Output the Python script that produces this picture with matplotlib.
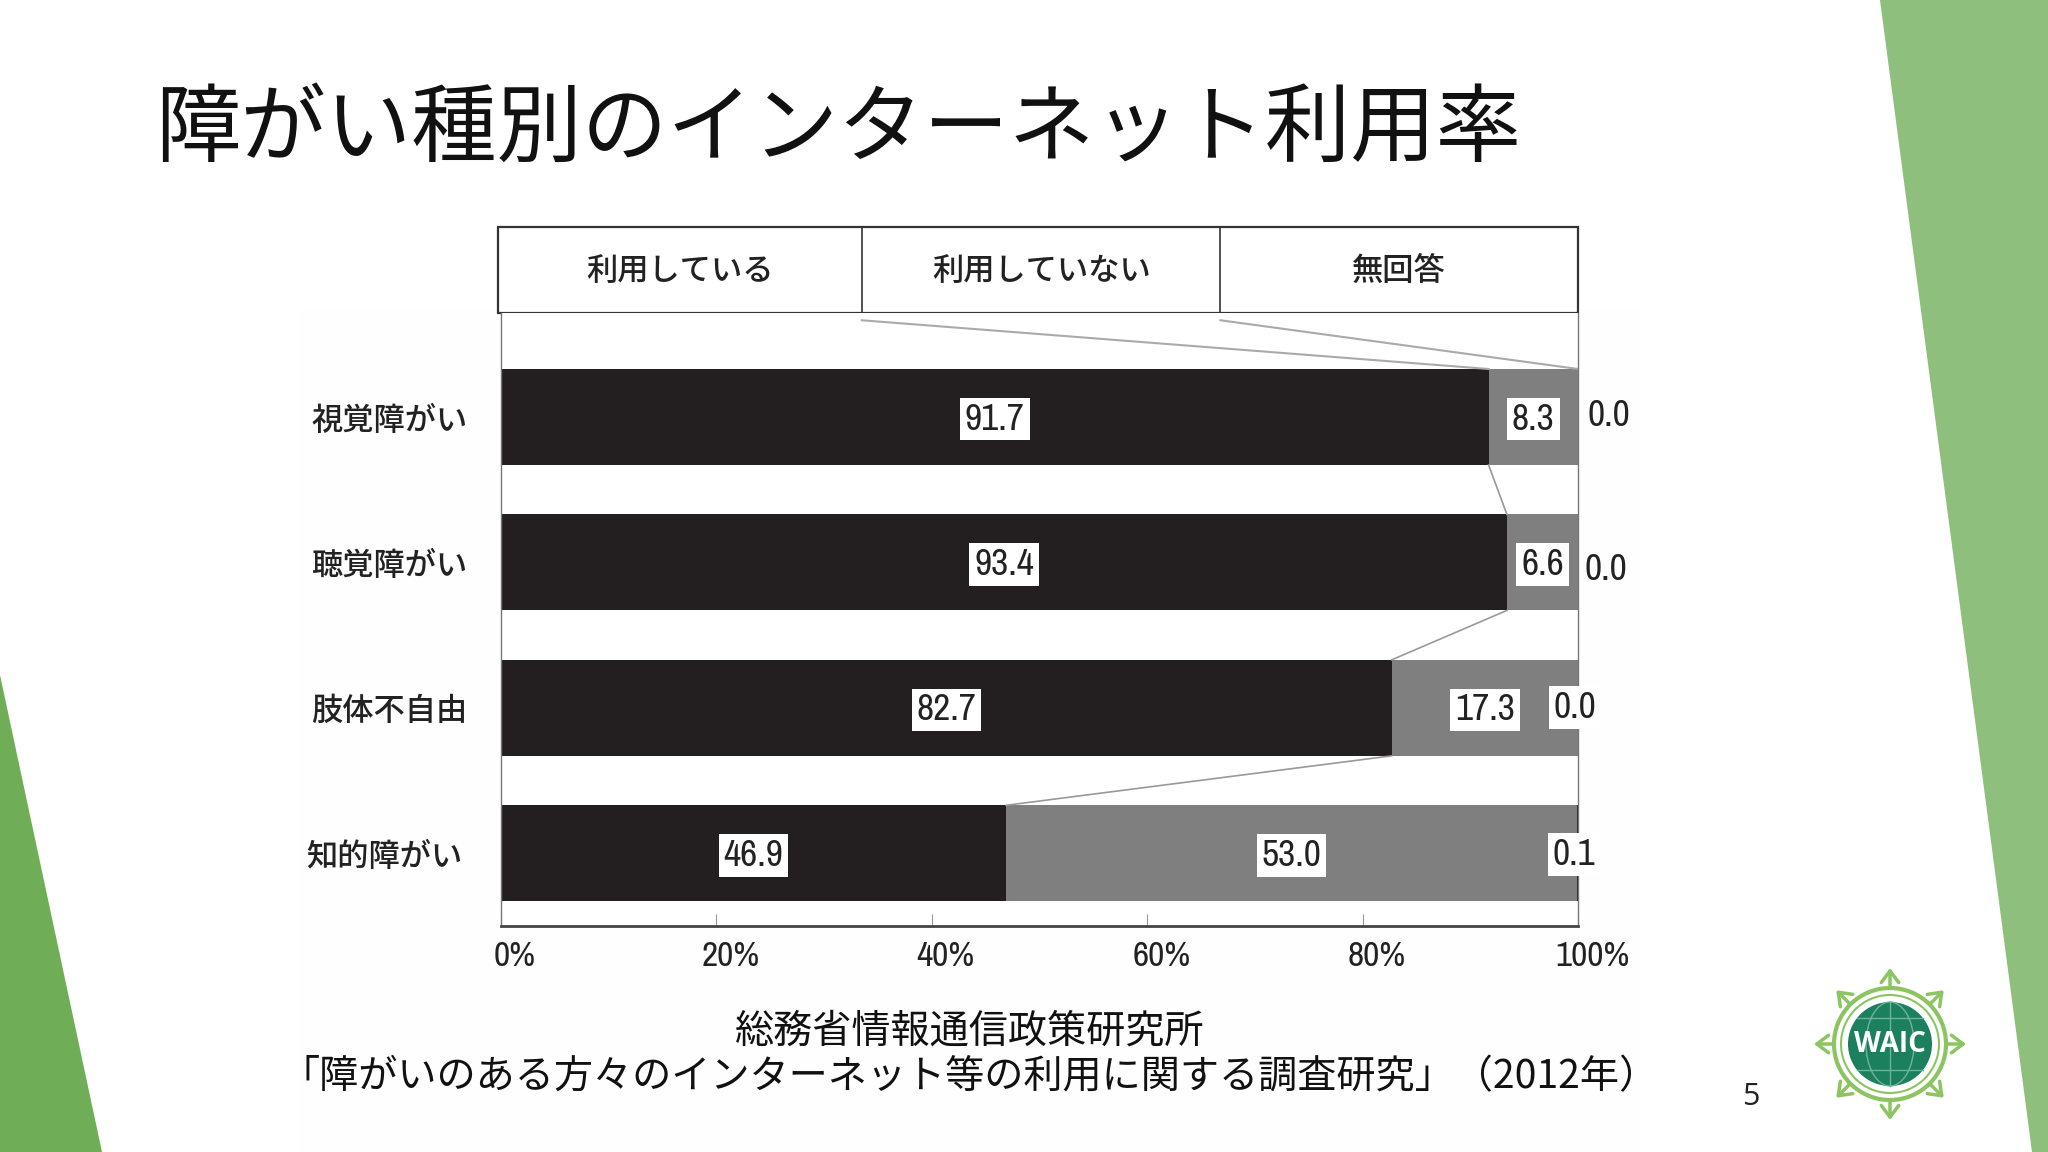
import matplotlib
matplotlib.use("Agg")
import matplotlib.pyplot as plt
import numpy as np
from matplotlib import font_manager
from matplotlib.patches import Circle, Ellipse, Polygon, Rectangle
from matplotlib.transforms import ScaledTranslation

JP = "Noto Sans CJK JP"
names = sorted({f.name for f in font_manager.fontManager.ttflist})
narrow = [n for n in names if "Narrow" in n or "Condensed" in n]
NARROW = narrow[0] if narrow else "Liberation Sans"
plt.rcParams["font.family"] = [JP, "DejaVu Sans"]

categories = ["視覚障がい", "聴覚障がい", "肢体不自由", "知的障がい"]
used = [91.7, 93.4, 82.7, 46.9]
not_used = [8.3, 6.6, 17.3, 53.0]
no_answer = [0.0, 0.0, 0.0, 0.1]
legend_labels = ["利用している", "利用していない", "無回答"]
x_ticks = [0, 20, 40, 60, 80, 100]

title = "障がい種別のインターネット利用率"
source_lines = ["総務省情報通信政策研究所", "「障がいのある方々のインターネット等の利用に関する調査研究」（2012年）"]

BLACK = "#231f20"
GRAY = "#7f7f7f"
W, H = 2048, 1152
fig = plt.figure(figsize=(W / 100, H / 100), dpi=100, facecolor="white")

# slide layer, in pixel coordinates
bg = fig.add_axes([0, 0, 1, 1])
bg.set_xlim(0, W)
bg.set_ylim(H, 0)
bg.axis("off")
bg.add_patch(Rectangle((300, 310), 1340, 842, fc="#fefefe", ec="none"))
bg.add_patch(Polygon([(0, 675), (102, 1152), (0, 1152)], fc="#70ad57", ec="none"))
bg.add_patch(Polygon([(1880, 0), (W, 0), (W, H), (2032, H)], fc="#8fbf7c", ec="none"))
bg.text(155, 131, title, fontsize=61.5, ha="left", va="center", color="#111111")
bg.text(970, 1032, source_lines[0], fontsize=28.2, ha="center", va="center", color="#111111")
bg.text(970, 1077, source_lines[1], fontsize=28.2, ha="center", va="center", color="#111111")
bg.text(1751, 1097, "5", fontsize=22, ha="center", va="center", color="#222222", family="Open Sans")

# legend header
bg.add_patch(Rectangle((498, 227), 1080, 86, fc="white", ec="#333333", lw=1.6))
for x in [862, 1220]:
    bg.plot([x, x], [227, 313], color="#333333", lw=1.2)
for x, label in zip([680, 1042, 1399], legend_labels):
    bg.text(x, 271, label, fontsize=22.5, ha="center", va="center", color="#222222", fontweight="medium")

# WAIC logo
cx, cy = 1890, 1044
LOGO = "#8cc461"
bg.add_patch(Circle((cx, cy), 56, fc="white", ec=LOGO, lw=3))
bg.add_patch(Circle((cx, cy), 49, fc="white", ec=LOGO, lw=1.5))
bg.add_patch(Circle((cx, cy), 42, fc="#1c7f5e", ec="none"))
for a in np.deg2rad(np.arange(0, 360, 45)):
    bg.annotate("", xy=(cx + 76 * np.cos(a), cy + 76 * np.sin(a)),
                xytext=(cx + 56 * np.cos(a), cy + 56 * np.sin(a)),
                arrowprops=dict(arrowstyle="->,head_length=0.6,head_width=0.45", color=LOGO, lw=2.5,
                                shrinkA=0, shrinkB=0, mutation_scale=14))
grid = "#6db59a"
bg.plot([cx, cx], [cy - 42, cy + 42], color=grid, lw=1)
bg.add_patch(Ellipse((cx, cy), 48, 84, fc="none", ec=grid, lw=1))
for dy, half in [(-26, 33), (26, 33)]:
    bg.plot([cx - half, cx + half], [cy + dy, cy + dy], color=grid, lw=1)
bg.text(cx, cy + 1, "WAIC", fontsize=20, ha="center", va="center", color="white", fontweight="bold", family="Open Sans")

# chart
ax = fig.add_axes([501 / W, 1 - 926 / H, 1077 / W, 613 / H])
ax.set_facecolor("white")
y = np.arange(len(categories))
bar_h = 0.66
used_arr = np.array(used)
not_used_arr = np.array(not_used)
ax.barh(y, used_arr, height=bar_h, color=BLACK)
ax.barh(y, not_used_arr, left=used_arr, height=bar_h, color=GRAY)
ax.barh(y, no_answer, left=used_arr + not_used_arr, height=bar_h, color=BLACK)
ax.set_xlim(0, 100)
ax.set_ylim(3.5, -0.715)

for spine in ["left", "right"]:
    ax.spines[spine].set_color("#777777")
    ax.spines[spine].set_linewidth(1)
ax.spines["top"].set_visible(False)
ax.spines["bottom"].set_color("#444444")
ax.spines["bottom"].set_linewidth(2)

ax.set_xticks(x_ticks)
ax.set_xticklabels([f"{t}%" for t in x_ticks], fontsize=25.5, family=NARROW, color="#222222")
ax.tick_params(axis="x", direction="in", length=9, width=0.8, color="#999999", pad=10)
shift = ScaledTranslation(14 / 100, 0, fig.dpi_scale_trans)
for tick_label in ax.get_xticklabels():
    tick_label.set_transform(tick_label.get_transform() + shift)

ax.set_yticks(y)
ax.set_yticklabels(categories, fontsize=22.5, color="#222222", fontweight="medium")
ax.tick_params(axis="y", length=0, pad=24)
left_shift = ScaledTranslation(-5 / 100, 0, fig.dpi_scale_trans)
ax.get_yticklabels()[3].set_transform(ax.get_yticklabels()[3].get_transform() + left_shift)

# connector lines between the bars
for i in range(len(categories) - 1):
    ax.plot([used[i], used[i + 1]], [i + bar_h / 2, i + 1 - bar_h / 2], color="#999999", lw=1.2)
ax.plot([33.5, used[0]], [-0.665, -bar_h / 2], color="#aaaaaa", lw=1.5)
ax.plot([66.8, 100], [-0.665, -bar_h / 2], color="#aaaaaa", lw=1.5)

# value labels
box = dict(fc="white", ec="none", pad=3.5)
value_style = dict(fontsize=27, family=NARROW, color="#222222", ha="center", va="center")
for i in range(len(categories)):
    ax.annotate(f"{used[i]:.1f}", xy=(used[i] / 2, i), xytext=(0, -1.5), textcoords="offset points",
                bbox=box, **value_style)
    ax.annotate(f"{not_used[i]:.1f}", xy=(used[i] + not_used[i] / 2, i), xytext=(0, -1.5),
                textcoords="offset points", bbox=box, **value_style)

no_answer_offsets = [(22, 1), (20, -5), (-2, 0), (-3, -1)]
for i, (val, off) in enumerate(zip(no_answer, no_answer_offsets)):
    ax.annotate(f"{val:.1f}", xy=(100, i), xytext=off, textcoords="offset points",
                bbox=box if off[0] < 0 else None, clip_on=False, **value_style)

fig.savefig("out.png", dpi=100)
